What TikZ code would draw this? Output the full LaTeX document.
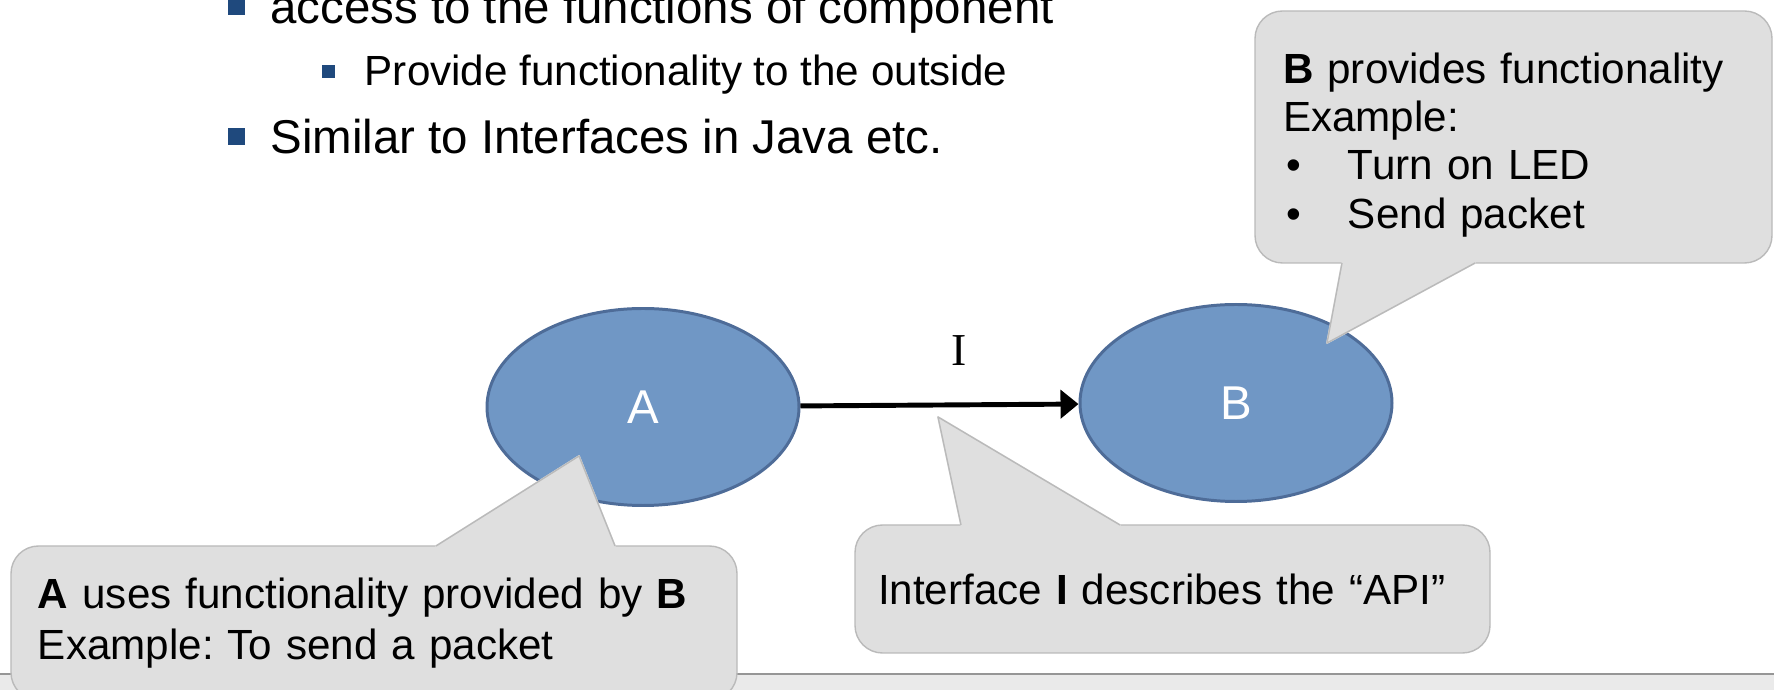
\documentclass[tikz,border=0pt]{standalone}
\usepackage{fontspec}
\setmainfont{Liberation Sans}
\newfontfamily\ifacefont{Liberation Serif}
\usetikzlibrary{shapes, arrows.meta, positioning}
\frenchspacing

\definecolor{compfill}{RGB}{112,151,197}
\definecolor{compline}{RGB}{78,108,152}
\definecolor{notefill}{RGB}{223,223,223}
\definecolor{noteline}{RGB}{186,186,186}
\definecolor{bulletblue}{RGB}{31,73,125}
\definecolor{footfill}{RGB}{234,234,234}
\definecolor{footline}{RGB}{150,150,150}

\newcommand{\bulletone}{\textcolor{bulletblue}{\rule[0.18cm]{0.34cm}{0.34cm}}\hspace{0.50cm}}
\newcommand{\bullettwo}{\textcolor{bulletblue}{\rule[0.16cm]{0.26cm}{0.26cm}}\hspace{0.59cm}}
\newcommand{\dotitem}{\makebox[1.30cm][l]{\hspace{0.06cm}•}}

\tikzstyle{comp} = [draw=compline, fill=compfill, ellipse, line width=1.7pt,
    minimum width=6.24cm, minimum height=3.94cm, text=white,
    font=\fontsize{27}{32}\selectfont]
\tikzstyle{note} = [draw=noteline, fill=notefill, rectangle, line width=0.8pt,
    rounded corners=0.55cm, align=left, inner ysep=0pt, outer sep=0pt,
    font=\fontsize{24}{27.5}\selectfont]
\tikzstyle{notetip} = [fill=notefill, draw=notefill, line width=1pt, line join=round]
\tikzstyle{notetipedge} = [draw=noteline, line width=0.8pt, line join=round]
\tikzstyle{topitem} = [anchor=base west, inner sep=0pt, font=\fontsize{27}{32}\selectfont]
\tikzstyle{subitem} = [anchor=base west, inner sep=0pt, font=\fontsize{24}{28}\selectfont]
\tikzstyle{flow} = [-{Triangle[length=0.36cm, width=0.56cm]}, line width=2.8pt]

\begin{document}
\begin{tikzpicture}
    \useasboundingbox (0,0) rectangle (35.48,13.8);
    \clip (0,0) rectangle (35.48,13.8);

    % footer band of the slide
    \fill[footfill] (0,0) rectangle (35.48,0.31);
    \draw[footline, line width=1pt] (0,0.32) -- (35.48,0.32);

    % bullet points at the top
    \node[topitem] (access) at (4.56,13.32) {\bulletone access to the functions of component};
    \node[subitem] (provide) at (6.44,12.08) {\bullettwo Provide functionality to the outside};
    \node[topitem] (similar) at (4.56,10.72) {\bulletone Similar to Interfaces in Java etc.};

    % We start by placing the components
    \node[comp] (A) at (12.86,5.66) {A};
    \node[comp, right=5.56cm of A, yshift=0.08cm] (B) {B};

    % the interface between them
    \draw[flow] (A) -- node[pos=0.57, above=0.73cm, inner sep=0pt,
        font=\ifacefont\fontsize{26}{30}\selectfont] (I) {I} (B);

    % callouts
    \node[note, minimum width=14.52cm, minimum height=3.08cm, text width=13.44cm,
        inner xsep=0.54cm, font=\fontsize{24}{29}\selectfont] (noteA) at (7.48,1.34)
        {\mbox{\textbf{A} uses functionality provided by \textbf{B}}\\Example: To send a packet};
    \node[note, minimum width=12.70cm, minimum height=2.56cm, text width=11.78cm,
        inner xsep=0.46cm] (noteI) at (23.45,2.02)
        {Interface \textbf{I} describes the “API”};
    \node[note, minimum width=10.34cm, minimum height=5.04cm, text width=9.22cm,
        inner xsep=0.56cm, text height=0.92cm] (noteB) at (30.27,11.06)
        {\textbf{B} provides functionality\\
         Example:\\
         \dotitem Turn on LED\\
         \dotitem Send packet};

    % pointers of the callouts
    \coordinate (tipA) at (11.58,4.68);
    \coordinate (tipI) at (18.76,5.46);
    \coordinate (tipB) at (26.54,6.94);
    \filldraw[notetip] ([xshift=8.50cm]noteA.north west) -- (tipA) -- ([xshift=12.08cm]noteA.north west) -- cycle;
    \draw[notetipedge] ([xshift=8.50cm]noteA.north west) -- (tipA) -- ([xshift=12.08cm]noteA.north west);
    \filldraw[notetip] ([xshift=2.12cm]noteI.north west) -- (tipI) -- ([xshift=5.30cm]noteI.north west) -- cycle;
    \draw[notetipedge] ([xshift=2.12cm]noteI.north west) -- (tipI) -- ([xshift=5.30cm]noteI.north west);
    \filldraw[notetip] ([xshift=1.74cm]noteB.south west) -- (tipB) -- ([xshift=4.40cm]noteB.south west) -- cycle;
    \draw[notetipedge] ([xshift=1.74cm]noteB.south west) -- (tipB) -- ([xshift=4.40cm]noteB.south west);
\end{tikzpicture}
\end{document}
